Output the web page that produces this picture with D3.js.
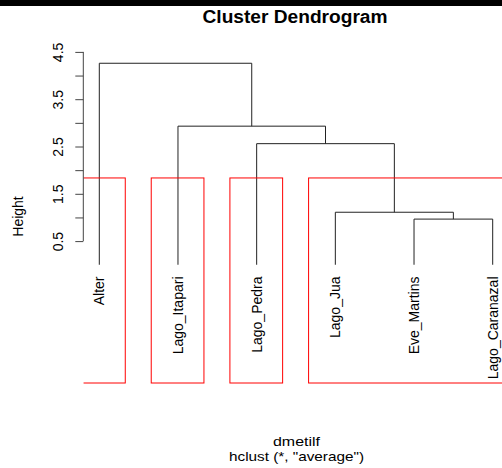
<!DOCTYPE html>
<html>
<head>
<meta charset="utf-8">
<script src="https://cdn.jsdelivr.net/npm/d3@7"></script>
<style>
  body { margin: 0; background: #fff; }
  text { font-family: "Liberation Sans", Arial, sans-serif; fill: #000; }
</style>
</head>
<body>
<script>
// Leaf order as drawn, and the merges (R hclust style: negative = leaf index, positive = earlier merge)
let leaves = ["Alter", "Lago_Itapari", "Lago_Pedra", "Lago_Jua", "Eve_Martins", "Lago_Caranazal"];
let merges = [[-5, -6], [-4, 1], [-3, 2], [-2, 3], [-1, 4]];
let mergeHeights = [0.965, 1.11, 2.56, 2.93, 4.26];
let yTicks = [0.5, 1, 1.5, 2, 2.5, 3, 3.5, 4, 4.5];
let yTickLabels = ["0.5", "", "1.5", "", "2.5", "", "3.5", "", "4.5"];
let clusterSizes = [1, 1, 1, 3]; // rect.hclust k = 4

let width = 502, height = 468;

let svg = d3.select("body").append("svg")
  .attr("width", width)
  .attr("height", height);

// black strip at the top of the screenshot
svg.append("rect").attr("x", 0).attr("y", 0).attr("width", width).attr("height", 6).attr("fill", "#000");

let xScale = d3.scaleLinear().domain([1, 6]).range([99.3, 492.7]);
let yScale = d3.scaleLinear().domain([-2.5, 4.5]).range([383, 51.9]);

// plot region clip (usr x from 0.8 to 6.2)
svg.append("clipPath").attr("id", "plotclip")
  .append("rect")
  .attr("x", xScale(0.8)).attr("y", 0)
  .attr("width", xScale(6.2) - xScale(0.8)).attr("height", height);

// compute merge positions
let pos = []; // x of each merge
function nodeX(id) { return id < 0 ? -id : pos[id - 1]; }
function nodeH(id) { return id < 0 ? 0 : mergeHeights[id - 1]; }
merges.forEach((m, i) => { pos[i] = (nodeX(m[0]) + nodeX(m[1])) / 2; });

let g = svg.append("g");
merges.forEach((m, i) => {
  let h = mergeHeights[i];
  let path = d3.path();
  path.moveTo(xScale(nodeX(m[0])), yScale(nodeH(m[0])));
  path.lineTo(xScale(nodeX(m[0])), yScale(h));
  path.lineTo(xScale(nodeX(m[1])), yScale(h));
  path.lineTo(xScale(nodeX(m[1])), yScale(nodeH(m[1])));
  g.append("path")
    .attr("d", path.toString())
    .attr("fill", "none")
    .attr("stroke", "#222")
    .attr("stroke-width", 1);
});

// leaf labels
leaves.forEach((name, i) => {
  let x = xScale(i + 1), y = 276.5;
  svg.append("text")
    .attr("transform", `translate(${x},${y}) rotate(-90)`)
    .attr("dy", "0.35em")
    .attr("text-anchor", "end")
    .style("font-size", "14px")
    .text(name);
});

// red cluster rectangles
let sortedH = mergeHeights.slice().sort((a, b) => b - a);
let k = clusterSizes.length;
let cutH = (sortedH[k - 2] + sortedH[k - 1]) / 2;
let cum = [0];
clusterSizes.forEach(s => cum.push(cum[cum.length - 1] + s));
let rg = svg.append("g").attr("clip-path", "url(#plotclip)");
clusterSizes.forEach((s, n) => {
  let x0 = xScale(cum[n] + 0.66), x1 = xScale(cum[n + 1] + 0.33);
  rg.append("rect")
    .attr("x", x0).attr("y", yScale(cutH))
    .attr("width", x1 - x0).attr("height", yScale(-2.5) - yScale(cutH))
    .attr("fill", "none")
    .attr("stroke", "#ff0000")
    .attr("stroke-width", 1);
});

// y axis
let axis = svg.append("g")
  .attr("transform", "translate(83.3,0)")
  .call(d3.axisLeft(yScale).tickValues(yTicks).tickSize(8).tickFormat((d, i) => yTickLabels[i]));
axis.select(".domain").attr("d", `M0,${yScale(0.5)}V${yScale(4.5)}`).attr("stroke", "#444");
axis.selectAll(".tick line").attr("stroke", "#444");
axis.selectAll(".tick text")
  .attr("x", null).attr("dy", null)
  .attr("transform", "translate(-20,0) rotate(-90)")
  .attr("text-anchor", "middle")
  .style("font-size", "14px")
  .style("font-family", "'Liberation Sans', Arial, sans-serif");

// axis title
svg.append("text")
  .attr("transform", "translate(22.5,216.5) rotate(-90)")
  .attr("text-anchor", "middle")
  .style("font-size", "14px")
  .text("Height");

// title
svg.append("text")
  .attr("x", 295).attr("y", 22.5)
  .attr("text-anchor", "middle")
  .attr("textLength", 185).attr("lengthAdjust", "spacingAndGlyphs")
  .style("font-size", "17.5px").style("font-weight", "bold")
  .text("Cluster Dendrogram");

// x labels
svg.append("text")
  .attr("x", 296.5).attr("y", 446)
  .attr("text-anchor", "middle")
  .attr("textLength", 47).attr("lengthAdjust", "spacingAndGlyphs")
  .style("font-size", "13px")
  .text("dmetilf");

svg.append("text")
  .attr("x", 296.5).attr("y", 460.5)
  .attr("text-anchor", "middle")
  .attr("textLength", 135).attr("lengthAdjust", "spacingAndGlyphs")
  .style("font-size", "13px")
  .text('hclust (*, "average")');
</script>
</body>
</html>
